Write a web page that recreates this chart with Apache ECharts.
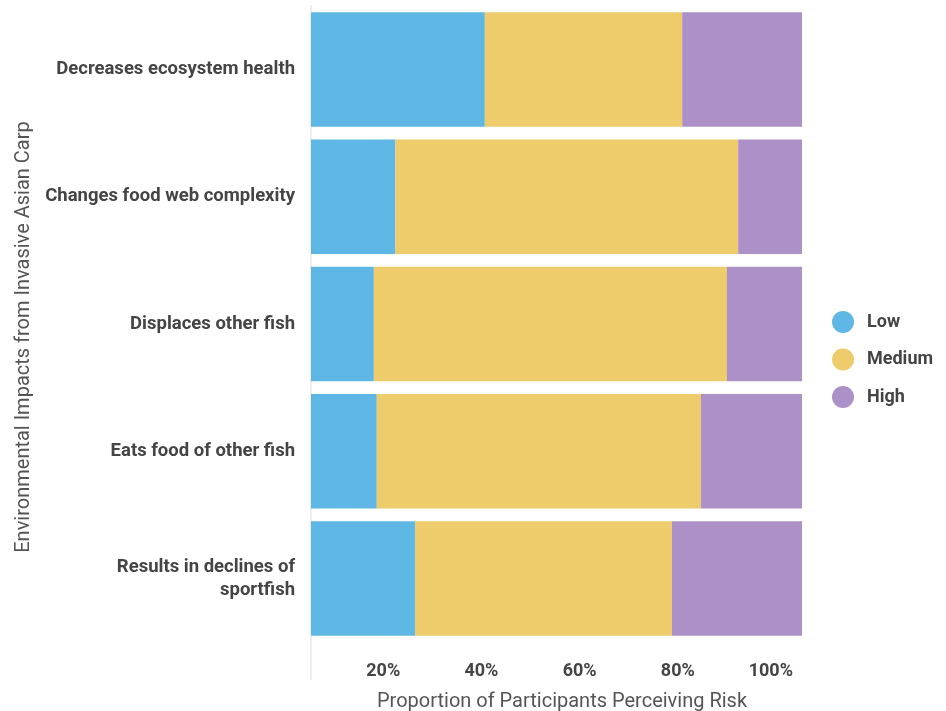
<!DOCTYPE html>
<html>
<head>
<meta charset="utf-8">
<script src="https://cdn.jsdelivr.net/npm/echarts@6/dist/echarts.min.js"></script>
<style>
  html, body { margin: 0; padding: 0; background: #fff; }
  #chart { width: 946px; height: 711px; }
</style>
</head>
<body>
<div id="chart"></div>
<script>
// impacts, top to bottom
const impacts = [
  'Decreases ecosystem health',
  'Changes food web complexity',
  'Displaces other fish',
  'Eats food of other fish',
  'Results in declines of\nsportfish'
]
const levels = ['Low', 'Medium', 'High']
// percent of participants
const lowRisk = [35.4, 17.2, 12.8, 13.4, 21.2]
const mediumRisk = [40.2, 69.8, 71.9, 66.0, 52.3]
const highRisk = [24.4, 13.0, 15.3, 20.6, 26.5]
const xTicks = [0, 20, 40, 60, 80, 100]

const colors = ['#5fb7e5', '#eecb6b', '#ab91c7']
const txt = '#444'

const chart = echarts.init(document.getElementById('chart'))

const mk = (name, data, i) => ({
  name, type: 'bar', stack: 'risk', data,
  barCategoryGap: '10%',
  itemStyle: { color: colors[i] },
  emphasis: { disabled: true },
})

chart.setOption({
  animation: false,
  textStyle: { fontFamily: 'Roboto, sans-serif' },
  grid: { left: 311, right: 144, top: 6, bottom: 69, containLabel: false, outerBoundsMode: 'none' },
  legend: {
    orient: 'vertical', left: 827, top: 306, padding: 5,
    icon: 'circle', itemWidth: 22, itemHeight: 22, itemGap: 15.5,
    data: levels,
    textStyle: { fontSize: 18, fontWeight: 'bold', color: txt, padding: [0, 0, 0, 8] },
  },
  xAxis: {
    type: 'value', min: xTicks[0], max: xTicks[xTicks.length - 1], interval: 20,
    name: 'Proportion of Participants Perceiving Risk',
    nameLocation: 'middle', nameGap: 50,
    nameTextStyle: { fontSize: 20, color: '#555', padding: [0, 0, 0, 11] },
    axisLine: { show: false }, axisTick: { show: false }, splitLine: { show: false },
    axisLabel: {
      showMinLabel: false, align: 'right', margin: 20, padding: [0, 9, 0, 0],
      fontSize: 18, fontWeight: 'bold', color: txt,
      formatter: v => v + '%',
    },
  },
  yAxis: {
    type: 'category', data: impacts, inverse: true,
    name: 'Environmental Impacts from Invasive Asian Carp',
    nameLocation: 'middle', nameGap: 277, nameRotate: 90,
    nameTextStyle: { fontSize: 20, color: '#555', padding: [0, 26, 0, 0] },
    axisLine: { show: false }, axisTick: { show: false },
    axisLabel: { margin: 16, fontSize: 18.5, fontWeight: 'bold', color: txt, lineHeight: 23, padding: [5, 0, 0, 0] },
  },
  graphic: [{
    type: 'line', silent: true,
    shape: { x1: 311, y1: 5, x2: 311, y2: 680 },
    style: { stroke: '#dcdcdc', lineWidth: 1 },
  }],
  series: [
    mk(levels[0], lowRisk, 0),
    mk(levels[1], mediumRisk, 1),
    mk(levels[2], highRisk, 2),
  ],
})
</script>
</body>
</html>
